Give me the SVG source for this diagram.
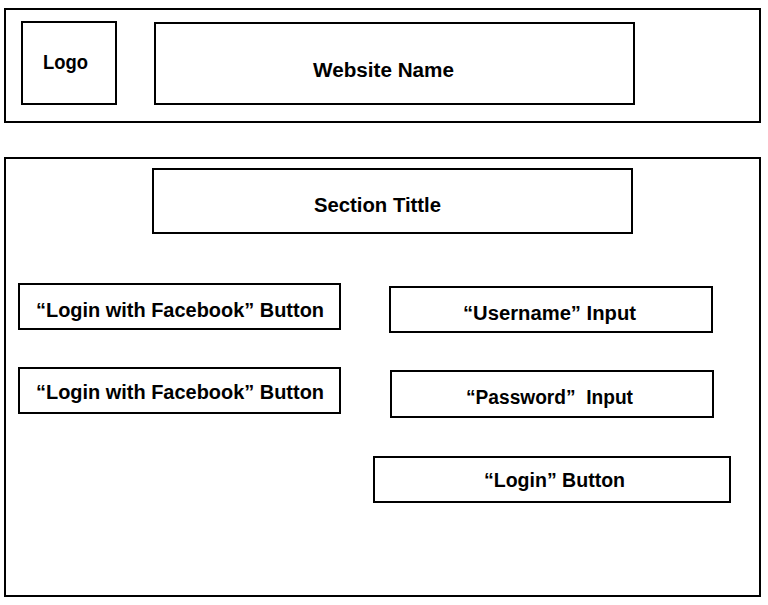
<svg xmlns="http://www.w3.org/2000/svg" width="768" height="605" viewBox="0 0 768 605">
<style>
rect{fill:#fff;stroke:#000;stroke-width:2}
text{font-family:"Liberation Sans","Open Sans",sans-serif;font-weight:700;font-size:20px;fill:#000;text-anchor:middle}
</style>
<rect x="0" y="0" width="768" height="605" style="stroke:none"/>
<g id="header">
<rect x="5" y="9" width="755" height="113"/>
</g>
<g id="logo">
<rect x="22" y="22" width="94" height="82"/>
<text x="65.5" y="68.5" textLength="45" lengthAdjust="spacingAndGlyphs">Logo</text>
</g>
<g id="website-name">
<rect x="155" y="23" width="479" height="81"/>
<text x="383.5" y="77" textLength="141" lengthAdjust="spacingAndGlyphs">Website Name</text>
</g>
<g id="section">
<rect x="5" y="158" width="755" height="438"/>
</g>
<g id="section-title">
<rect x="153" y="169" width="479" height="64"/>
<text x="377.5" y="212" textLength="127" lengthAdjust="spacingAndGlyphs">Section Tittle</text>
</g>
<g id="fb-button-1">
<rect x="19" y="284" width="321" height="45"/>
<text x="180" y="316.5" textLength="288" lengthAdjust="spacingAndGlyphs">“Login with Facebook” Button</text>
</g>
<g id="fb-button-2">
<rect x="19" y="368" width="321" height="45"/>
<text x="180" y="398.5" textLength="288" lengthAdjust="spacingAndGlyphs">“Login with Facebook” Button</text>
</g>
<g id="username-input">
<rect x="390" y="287" width="322" height="45"/>
<text x="549.5" y="319.5" textLength="173" lengthAdjust="spacingAndGlyphs">“Username” Input</text>
</g>
<g id="password-input">
<rect x="391" y="371" width="322" height="46"/>
<text x="549.5" y="404" textLength="167" lengthAdjust="spacingAndGlyphs" style="white-space:pre">“Password”  Input</text>
</g>
<g id="login-button">
<rect x="374" y="457" width="356" height="45"/>
<text x="554.5" y="487" textLength="141" lengthAdjust="spacingAndGlyphs">“Login” Button</text>
</g>
<g id="connectors"></g>
</svg>
